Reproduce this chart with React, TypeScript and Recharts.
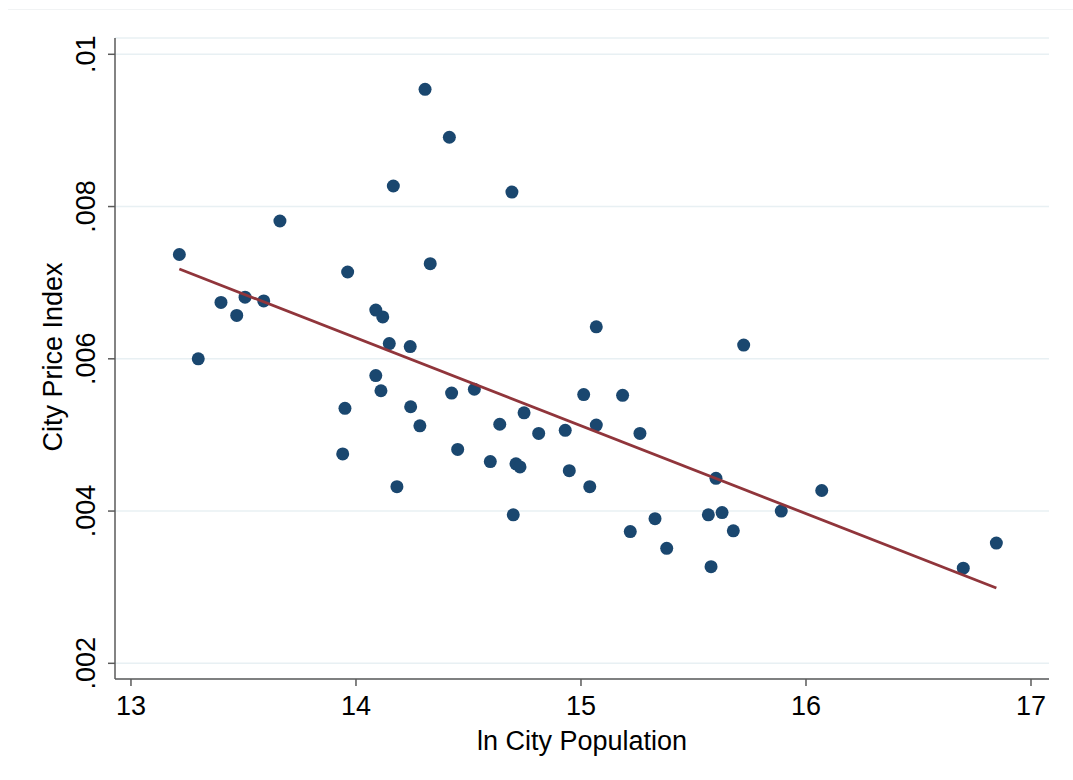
import React from 'react';
import {
  ScatterChart,
  Scatter,
  XAxis,
  YAxis,
  CartesianGrid,
  Label,
} from 'recharts';

// ln population of each city
const lnPop = [
  13.215, 13.299, 13.4, 13.47, 13.507, 13.59, 13.662, 13.941, 13.951, 13.963,
  14.088, 14.088, 14.111, 14.119, 14.148, 14.166, 14.182, 14.241, 14.243, 14.284,
  14.307, 14.33, 14.415, 14.425, 14.452, 14.526, 14.597, 14.639, 14.693, 14.699,
  14.711, 14.729, 14.747, 14.812, 14.93, 14.948, 15.012, 15.039, 15.068, 15.068,
  15.185, 15.219, 15.262, 15.329, 15.381, 15.566, 15.578, 15.6, 15.627, 15.677,
  15.723, 15.89, 16.07, 16.699, 16.846,
];

// city price index for the same cities
const priceIdx = [
  0.00737, 0.006, 0.00674, 0.00657, 0.00681, 0.00676, 0.00781, 0.00475, 0.00535, 0.00714,
  0.00664, 0.00578, 0.00558, 0.00655, 0.0062, 0.00827, 0.00432, 0.00616, 0.00537, 0.00512,
  0.00954, 0.00725, 0.00891, 0.00555, 0.00481, 0.0056, 0.00465, 0.00514, 0.00819, 0.00395,
  0.00462, 0.00458, 0.00529, 0.00502, 0.00506, 0.00453, 0.00553, 0.00432, 0.00642, 0.00513,
  0.00552, 0.00373, 0.00502, 0.0039, 0.00351, 0.00395, 0.00327, 0.00443, 0.00398, 0.00374,
  0.00618, 0.004, 0.00427, 0.00325, 0.00358,
];

// fitted line end points
const fitX = [13.215, 16.846];
const fitY = [0.00718, 0.00299];

const xTicks = [13, 14, 15, 16, 17];
const yTicks = [0.002, 0.004, 0.006, 0.008, 0.01];

const points = lnPop.map((x, i) => ({ x, y: priceIdx[i] }));
const fitLine = fitX.map((x, i) => ({ x, y: fitY[i] }));

const FONT = '"Liberation Sans Narrow", "Arial Narrow", "Liberation Sans", Arial, sans-serif';
const NAVY = '#1a476f';
const MAROON = '#90353b';
const AXIS = '#5a5a5a';

const fmtY = (v: number) => String(+v.toFixed(3)).replace(/^0/, '');

const YTick = (props: any) => {
  const { x, y, payload } = props;
  return (
    <text
      x={x}
      y={y}
      transform={`rotate(-90 ${x} ${y})`}
      textAnchor="middle"
      fill="#000"
      fontSize={27}
      fontFamily={FONT}
    >
      {fmtY(payload.value)}
    </text>
  );
};

const Dot = (props: any) => {
  const { cx, cy } = props;
  return <circle cx={cx} cy={cy} r={6.5} fill={NAVY} />;
};

export default function App() {
  return (
    <div style={{ position: 'absolute', left: 0, top: 0, width: 1073, height: 780, background: '#fff' }}>
      <div style={{ position: 'absolute', left: 8, right: 0, top: 9, height: 1, background: '#f1f3f4' }} />
      <ScatterChart
        width={1073}
        height={780}
        margin={{ top: 38, right: 24, bottom: 21, left: 35 }}
      >
        <CartesianGrid vertical={false} stroke="#e8f0f3" strokeWidth={1.5} />
        <XAxis
          type="number"
          dataKey="x"
          domain={[12.929, 17.08]}
          ticks={xTicks}
          allowDataOverflow
          height={80}
          tickSize={7}
          tickMargin={10}
          stroke={AXIS}
          strokeWidth={1.5}
          tick={{ fill: '#000', fontSize: 27, fontFamily: FONT }}
        >
          <Label
            value="ln City Population"
            position="insideBottom"
            offset={9}
            fill="#000"
            fontSize={27}
            fontFamily={FONT}
          />
        </XAxis>
        <YAxis
          type="number"
          dataKey="y"
          domain={[0.001794, 0.010214]}
          ticks={yTicks}
          allowDataOverflow
          width={80}
          tickSize={7}
          tickMargin={13}
          stroke={AXIS}
          strokeWidth={1.5}
          tick={<YTick />}
        >
          <Label
            content={() => (
              <text
                x={62}
                y={357}
                transform="rotate(-90 62 357)"
                textAnchor="middle"
                fill="#000"
                fontSize={27}
                fontFamily={FONT}
              >
                City Price Index
              </text>
            )}
          />
        </YAxis>
        <Scatter data={points} shape={<Dot />} isAnimationActive={false} />
        <Scatter
          data={fitLine}
          line={{ stroke: MAROON, strokeWidth: 2.8 }}
          shape={() => null}
          isAnimationActive={false}
        />
      </ScatterChart>
    </div>
  );
}
